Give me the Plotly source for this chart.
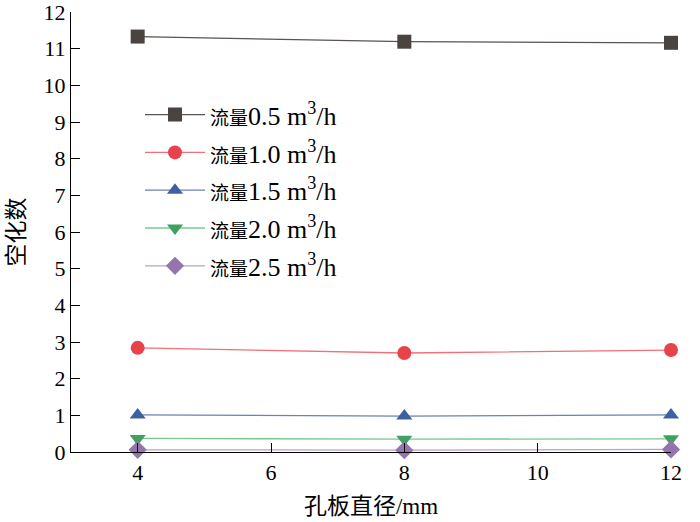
import plotly.graph_objects as go

x_vals = [4, 8, 12]
cjk_label = '<span style="font-size:19px">流量</span>'
series_names = [cjk_label + "0.5 m<sup>3</sup>/h", cjk_label + "1.0 m<sup>3</sup>/h",
                cjk_label + "1.5 m<sup>3</sup>/h", cjk_label + "2.0 m<sup>3</sup>/h",
                cjk_label + "2.5 m<sup>3</sup>/h"]
y_05 = [11.33, 11.19, 11.16]
y_10 = [2.84, 2.70, 2.78]
y_15 = [1.01, 0.98, 1.01]
y_20 = [0.37, 0.35, 0.36]
y_25 = [0.06, 0.05, 0.07]
series_vals = [y_05, y_10, y_15, y_20, y_25]
x_ticks = [4, 6, 8, 10, 12]
y_ticks = list(range(0, 13))

marker_colors = ["#4a4340", "#e8434a", "#3f60a0", "#3fa060", "#9474ac"]
line_colors = ["#5a5350", "#f07078", "#6a82b8", "#7ac890", "#b8a0c8"]
symbols = ["square", "circle", "triangle-up", "triangle-down", "diamond"]

font_fam = '"Liberation Serif", "Noto Sans CJK SC", serif'

fig = go.Figure()
for i, (name, ys, mc, lc, sym) in enumerate(zip(series_names, series_vals, marker_colors, line_colors, symbols)):
    fig.add_trace(go.Scatter(
        x=x_vals, y=ys, name=name, mode="lines+markers", legendgroup=f"g{i}",
        line=dict(color=lc, width=1.3),
        marker=dict(symbol=sym, size=14, color=mc, line=dict(width=0)),
        cliponaxis=False,
    ))

fig.update_layout(
    width=700, height=522,
    margin=dict(l=71, r=29, t=12, b=70, autoexpand=False),
    paper_bgcolor="white", plot_bgcolor="white",
    font=dict(family=font_fam, size=22, color="black"),
    showlegend=True,
    legend=dict(x=0.115, y=0.82, xanchor="left", yanchor="top",
                bgcolor="rgba(0,0,0,0)", itemwidth=60,
                font=dict(size=26, family=font_fam), tracegroupgap=1),
    xaxis=dict(range=[3, 12], tickvals=x_ticks, ticks="inside", ticklen=9,
               tickcolor="black", showline=True, linecolor="black", linewidth=1.2,
               showgrid=False, zeroline=False, ticklabeloverflow="allow", automargin=False,
               title=dict(text="孔板直径/mm", font=dict(size=23), standoff=14),
               tickfont=dict(size=22)),
    yaxis=dict(range=[0, 12], tickvals=y_ticks, ticks="inside", ticklen=9,
               tickcolor="black", showline=True, linecolor="black", linewidth=1.2,
               showgrid=False, zeroline=False, ticklabeloverflow="allow", automargin=False,
               title=dict(text="空化数", font=dict(size=23), standoff=12),
               tickfont=dict(size=22)),
)

fig.write_html("out.html", config={"displayModeBar": False},
               post_script="document.body.style.margin='0';")
